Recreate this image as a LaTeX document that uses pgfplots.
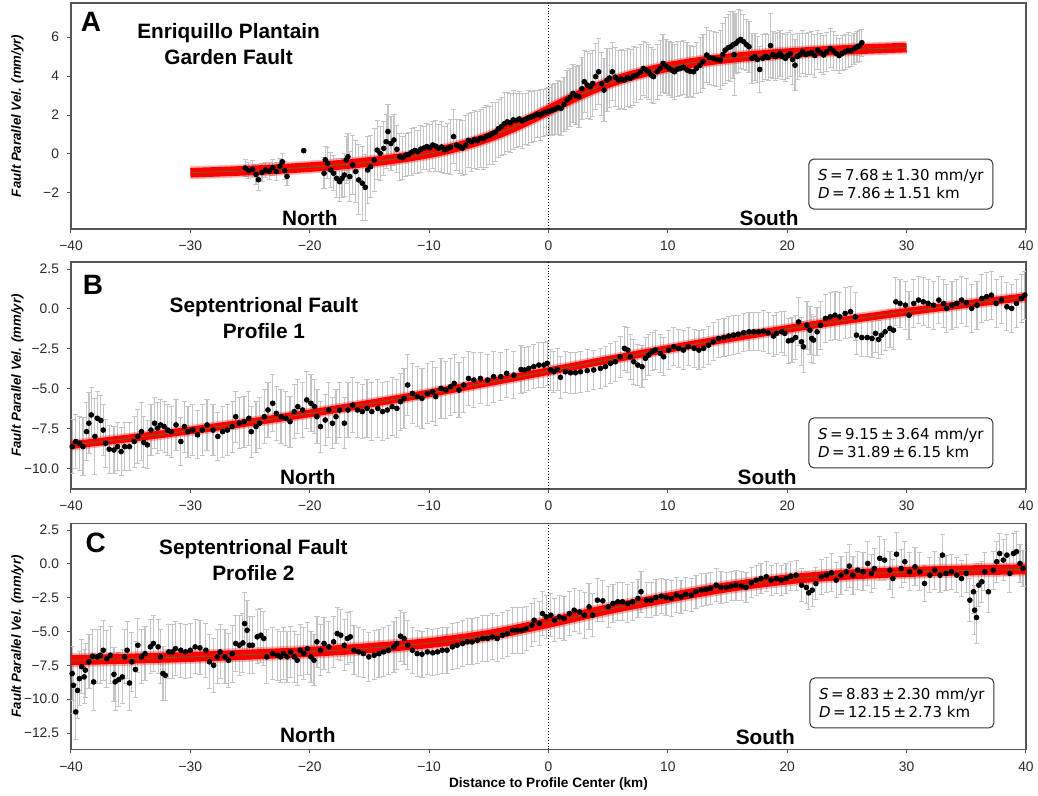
\documentclass[border=0pt]{standalone}
\usepackage{pgfplots}
\pgfplotsset{compat=1.18}
\usepackage{pgfplotstable}
\usepackage{fontspec}
\setmainfont{Liberation Sans}
\newfontfamily\dejavu{DejaVu Sans}

\definecolor{errgray}{RGB}{196,196,196}
\definecolor{framegray}{RGB}{85,85,85}
\definecolor{ticktext}{RGB}{40,40,40}
\definecolor{modelred}{RGB}{255,0,0}
\definecolor{modelmid}{RGB}{85,110,40}

% ---------- Panel A: Enriquillo Plantain Garden Fault ----------
\pgfplotstableread{
x y e
-25.4 -0.72 0.45
-25.1 -0.85 0.40
-24.8 -0.78 0.45
-24.5 -1.05 0.50
-24.3 -1.32 0.55
-24.0 -0.95 0.45
-23.7 -0.82 0.40
-23.4 -0.88 0.45
-23.1 -0.70 0.40
-22.8 -0.90 0.45
-22.5 -0.62 0.40
-22.3 -0.40 0.45
-22.1 -0.85 0.45
-21.9 -1.15 0.45
-20.5 0.17 0.10
-18.8 -0.99 0.80
-18.7 -0.30 0.70
-18.5 -0.47 0.80
-18.25 -0.82 0.90
-18.0 -0.99 0.90
-17.75 -1.25 1.00
-17.5 -1.42 1.00
-17.3 -1.25 1.00
-17.1 -1.08 1.10
-16.95 -0.31 1.20
-16.8 -0.14 1.20
-16.65 -1.16 1.30
-16.4 -0.56 1.50
-16.15 -0.90 1.60
-15.9 -1.33 1.80
-15.6 -1.50 1.90
-15.35 -1.71 1.70
-15.15 -0.82 1.70
-14.9 -0.65 1.60
-14.6 -0.31 1.60
-14.35 0.20 1.50
-14.1 0.03 1.40
-13.8 0.29 1.40
-13.6 0.63 1.40
-13.45 1.15 1.40
-13.2 0.54 1.40
-12.95 0.72 1.30
-12.7 0.24 1.20
-12.45 -0.14 1.20
-12.2 -0.20 1.10
-11.95 -0.05 1.10
-11.7 -0.02 1.10
-11.45 0.10 1.20
-11.2 0.18 1.20
-10.95 0.12 1.10
-10.7 0.25 1.20
-10.45 0.30 1.10
-10.2 0.38 1.20
-9.95 0.32 1.20
-9.7 0.46 1.20
-9.45 0.40 1.30
-9.2 0.30 1.20
-8.95 0.36 1.30
-8.7 0.22 1.20
-8.45 0.28 1.30
-8.2 0.35 1.40
-7.95 0.89 1.40
-7.7 0.46 1.30
-7.45 0.38 1.40
-7.2 0.30 1.40
-6.95 0.45 1.50
-6.7 0.70 1.40
-6.45 0.62 1.50
-6.2 0.75 1.50
-5.95 0.68 1.50
-5.7 0.80 1.50
-5.45 0.78 1.60
-5.2 0.90 1.60
-4.95 0.95 1.50
-4.7 1.05 1.60
-4.45 1.12 1.50
-4.2 1.30 1.50
-3.95 1.40 1.50
-3.7 1.55 1.60
-3.45 1.65 1.50
-3.2 1.60 1.50
-2.95 1.75 1.50
-2.7 1.72 1.40
-2.45 1.80 1.40
-2.2 1.70 1.40
-1.95 1.78 1.30
-1.7 1.85 1.40
-1.45 1.90 1.30
-1.2 1.95 1.30
-0.95 2.05 1.20
-0.7 2.00 1.30
-0.45 2.10 1.20
-0.2 2.15 1.20
0.05 2.20 1.20
0.3 2.25 1.30
0.55 2.30 1.30
0.8 2.38 1.40
1.05 2.34 1.40
1.3 2.55 1.40
1.55 2.77 1.50
1.8 2.90 1.50
2.05 3.11 1.50
2.3 3.00 1.50
2.55 2.94 1.60
2.8 3.35 1.60
3.0 3.71 1.60
3.25 3.54 1.70
3.5 3.45 1.70
3.7 3.62 1.70
3.95 3.97 1.70
4.2 4.22 1.70
4.45 3.60 1.60
4.65 3.28 1.60
4.9 3.79 1.60
5.1 3.90 1.50
5.35 4.22 1.50
5.6 3.95 1.50
5.85 3.79 1.50
6.1 3.85 1.50
6.35 3.79 1.50
6.6 3.92 1.50
6.85 3.88 1.50
7.1 4.00 1.50
7.4 4.05 1.40
7.7 4.20 1.40
7.95 4.39 1.40
8.2 4.30 1.40
8.4 4.22 1.40
8.6 4.05 1.40
8.8 3.97 1.40
9.1 4.22 1.40
9.35 4.40 1.40
9.6 4.65 1.50
9.85 4.50 1.40
10.1 4.39 1.40
10.35 4.30 1.40
10.55 4.22 1.40
10.8 4.35 1.40
11.05 4.39 1.40
11.3 4.45 1.40
11.6 4.31 1.40
11.85 4.25 1.30
12.15 4.22 1.30
12.4 4.40 1.30
12.7 4.56 1.40
12.95 4.75 1.40
13.25 5.08 1.40
13.5 4.95 1.40
13.8 4.91 1.40
14.1 4.85 1.40
14.4 4.82 1.50
14.6 5.10 1.60
14.8 5.33 1.70
15.05 5.45 1.70
15.25 5.50 1.80
15.45 5.60 1.70
15.55 5.10 2.10
15.7 5.68 1.55
15.9 5.80 1.60
16.1 5.88 1.50
16.35 5.76 1.40
16.6 5.60 1.30
16.8 5.50 1.30
17.05 4.91 1.30
17.3 4.99 1.20
17.5 4.85 1.20
17.7 4.34 1.20
17.95 4.91 1.20
18.2 5.00 1.20
18.4 4.95 1.20
18.6 5.56 1.65
18.8 5.10 1.20
19.0 4.99 1.20
19.2 5.05 1.20
19.4 5.16 1.20
19.6 5.00 1.20
19.85 4.91 1.20
20.05 5.05 1.20
20.25 5.16 1.20
20.45 4.85 1.30
20.65 4.56 1.30
20.85 5.00 1.20
21.05 5.08 1.10
21.3 5.25 1.10
21.55 5.10 1.10
21.8 5.16 1.10
22.05 5.20 1.10
22.3 5.05 1.10
22.55 5.33 1.00
22.8 5.20 1.00
23.05 5.08 1.00
23.3 5.25 1.00
23.6 5.42 1.00
23.85 5.30 1.00
24.1 5.16 0.90
24.35 5.05 0.90
24.6 5.16 0.90
24.85 5.25 0.90
25.1 5.33 0.90
25.35 5.30 0.80
25.6 5.40 0.80
25.85 5.50 0.80
26.05 5.55 0.80
26.25 5.71 0.70
}\dataA

\pgfplotstableread{
x y
-30 -0.964
-28 -0.920
-26 -0.873
-24 -0.817
-22 -0.751
-20 -0.673
-18 -0.583
-16 -0.473
-14 -0.339
-12 -0.173
-10 0.038
-9 0.165
-8 0.308
-7 0.471
-6 0.656
-5 0.864
-4 1.099
-3 1.359
-2 1.641
-1 1.941
0 2.250
1 2.559
2 2.859
3 3.141
4 3.401
5 3.636
6 3.844
7 4.029
8 4.192
9 4.335
10 4.462
12 4.673
14 4.839
16 4.973
18 5.083
20 5.173
22 5.251
24 5.317
26 5.373
28 5.420
30 5.464
}\modelA

% ---------- Panel B: Septentrional Fault, profile 1 ----------
\pgfplotstableread{
x y e
-39.9 -8.64 1.7
-39.6 -8.32 1.7
-39.3 -8.43 1.7
-39.0 -8.64 1.8
-38.7 -7.70 1.8
-38.5 -7.17 1.9
-38.3 -6.65 1.7
-38.0 -8.00 2.4
-37.8 -6.86 1.7
-37.5 -7.00 1.6
-37.3 -7.60 1.6
-37.1 -8.43 1.5
-36.8 -8.80 1.5
-36.4 -8.85 1.5
-36.1 -8.64 1.5
-35.8 -8.95 1.5
-35.5 -8.64 1.5
-35.1 -8.64 1.5
-34.7 -8.32 1.6
-34.4 -8.00 1.7
-34.1 -7.70 1.8
-33.9 -8.38 1.6
-33.6 -8.53 1.5
-33.3 -7.60 1.6
-33.0 -7.17 1.6
-32.75 -7.48 1.6
-32.5 -7.28 1.6
-32.2 -7.38 1.6
-31.9 -7.60 1.6
-31.6 -7.70 1.6
-31.2 -7.28 1.6
-30.8 -8.32 1.5
-30.5 -7.38 1.6
-30.2 -7.70 1.6
-29.8 -7.60 1.6
-29.4 -7.90 1.5
-29.0 -7.60 1.6
-28.6 -7.28 1.6
-28.1 -7.60 1.6
-27.7 -8.00 1.5
-27.3 -7.70 1.6
-26.9 -7.60 1.6
-26.5 -7.38 1.6
-26.2 -6.76 1.6
-25.9 -7.17 1.6
-25.5 -7.07 1.6
-25.1 -6.86 1.7
-24.9 -7.70 1.6
-24.5 -7.38 1.6
-24.2 -7.17 1.6
-23.8 -6.76 1.7
-23.5 -6.34 1.7
-23.1 -5.92 1.8
-22.8 -6.55 1.7
-22.4 -6.76 1.7
-22.0 -6.86 1.7
-21.65 -7.07 1.6
-21.3 -6.44 1.7
-21.0 -6.13 1.7
-20.6 -6.34 1.7
-20.25 -5.71 1.8
-19.9 -5.92 1.8
-19.6 -6.13 1.7
-19.4 -6.76 1.7
-19.1 -7.38 1.6
-18.7 -6.97 1.6
-18.4 -6.34 1.7
-18.1 -7.17 1.6
-17.8 -6.76 1.7
-17.5 -6.34 1.7
-17.1 -7.17 1.6
-16.8 -6.34 1.7
-16.4 -6.03 1.7
-16.0 -6.34 1.7
-15.6 -6.44 1.7
-15.2 -6.24 1.8
-14.8 -6.44 1.8
-14.3 -6.24 1.8
-13.9 -6.44 1.8
-13.5 -6.34 1.8
-13.1 -6.13 1.8
-12.7 -6.24 1.8
-12.4 -5.82 1.8
-12.1 -5.61 1.9
-11.8 -4.77 1.9
-11.4 -5.30 1.9
-11.0 -5.50 1.9
-10.6 -5.61 1.9
-10.15 -5.30 1.9
-9.7 -5.19 1.9
-9.45 -5.50 1.8
-9.0 -4.98 1.9
-8.6 -5.09 1.8
-8.2 -4.88 1.8
-7.9 -4.67 1.8
-7.5 -5.09 1.7
-7.1 -4.77 1.7
-6.7 -4.36 1.7
-6.25 -4.46 1.7
-5.7 -4.36 1.6
-5.1 -4.46 1.6
-4.6 -4.25 1.6
-4.0 -4.25 1.5
-3.5 -4.04 1.5
-2.9 -4.15 1.5
-2.3 -3.80 1.5
-2.0 -3.83 1.4
-1.65 -3.73 1.4
-1.23 -3.62 1.4
-0.81 -3.52 1.4
-0.39 -3.52 1.4
-0.11 -3.41 1.4
0.17 -3.83 1.3
0.45 -3.94 1.3
0.73 -3.79 1.3
1.0 -4.29 1.3
1.42 -3.94 1.3
1.84 -4.00 1.3
2.26 -4.00 1.3
2.68 -3.94 1.3
3.24 -3.87 1.3
3.79 -3.83 1.25
4.35 -3.73 1.25
4.77 -3.62 1.25
5.19 -3.41 1.25
5.6 -3.31 1.25
6.0 -3.00 1.3
6.36 -2.47 1.4
6.64 -2.58 1.4
6.86 -3.00 1.4
7.14 -3.31 1.4
7.48 -3.52 1.3
7.84 -3.62 1.3
8.12 -3.10 1.3
8.4 -2.89 1.3
8.68 -2.68 1.2
8.95 -2.58 1.2
9.37 -2.79 1.2
9.65 -3.00 1.2
10.07 -2.58 1.2
10.49 -2.37 1.2
10.9 -2.47 1.2
11.3 -2.58 1.2
11.7 -2.37 1.2
12.2 -2.47 1.2
12.6 -2.58 1.2
13.0 -2.47 1.2
13.4 -2.27 1.2
13.8 -2.06 1.2
14.25 -1.85 1.2
14.7 -1.79 1.2
15.1 -1.70 1.2
15.5 -1.64 1.2
15.9 -1.58 1.2
16.35 -1.49 1.2
16.8 -1.43 1.2
17.2 -1.43 1.2
17.6 -1.43 1.2
18.0 -1.39 1.3
18.4 -1.49 1.3
18.85 -1.70 1.3
19.1 -1.53 1.3
19.55 -1.43 1.3
19.8 -1.53 1.4
20.1 -2.00 1.4
20.4 -1.95 1.4
20.7 -1.79 1.4
20.95 -0.81 1.5
21.2 -2.06 1.5
21.35 -2.37 1.6
21.65 -1.02 1.5
21.9 -1.33 1.5
22.05 -1.85 1.5
22.2 -1.95 1.5
22.5 -1.43 1.5
22.8 -1.02 1.5
23.2 -0.59 1.5
23.6 -0.49 1.5
24.0 -0.39 1.5
24.4 -0.49 1.5
24.85 -0.28 1.6
25.3 -0.17 1.6
25.7 -0.49 1.5
25.8 -1.64 1.2
26.25 -1.79 1.2
26.7 -1.79 1.2
27.1 -1.85 1.2
27.4 -1.53 1.2
27.65 -1.91 1.2
27.9 -1.64 1.2
28.2 -1.43 1.2
28.6 -1.22 1.2
28.9 -1.33 1.2
29.1 0.45 1.5
29.45 0.35 1.5
29.9 0.24 1.5
30.2 -0.39 1.5
30.6 0.35 1.5
31.0 0.56 1.5
31.4 0.45 1.5
31.8 0.35 1.5
32.25 0.24 1.5
32.7 0.56 1.5
33.1 0.35 1.5
33.35 0.04 1.5
33.8 0.24 1.5
34.2 0.35 1.5
34.6 0.56 1.5
35.0 0.39 1.5
35.45 0.04 1.5
35.9 0.24 1.5
36.3 0.66 1.5
36.7 0.77 1.5
37.1 0.87 1.5
37.5 0.35 1.5
37.95 0.56 1.5
38.4 0.14 1.5
38.8 0.04 1.5
39.2 0.35 1.5
39.6 0.66 1.5
39.9 0.87 1.5
}\dataB

\pgfplotstableread{
x y
-40 -8.550
-36 -8.196
-32 -7.821
-28 -7.423
-24 -7.002
-20 -6.550
-16 -6.069
-12 -5.559
-8 -5.023
-4 -4.467
0 -3.900
4 -3.333
8 -2.777
12 -2.241
16 -1.731
20 -1.250
24 -0.798
28 -0.377
32 0.021
36 0.396
40 0.750
}\modelB

% ---------- Panel C: Septentrional Fault, profile 2 ----------
\pgfplotstableread{
x y e
-39.9 -8.10 2.0
-39.8 -8.97 2.1
-39.6 -10.94 2.0
-39.45 -9.35 2.1
-39.3 -8.48 2.0
-39.1 -7.60 2.0
-38.9 -8.35 2.0
-38.8 -7.85 2.0
-38.5 -7.24 2.0
-38.2 -6.82 2.0
-38.1 -8.72 2.1
-37.8 -6.87 2.0
-37.55 -6.75 2.1
-37.3 -6.38 2.2
-37.0 -7.00 2.1
-36.7 -6.75 2.1
-36.4 -8.16 2.0
-36.3 -8.72 2.1
-36.0 -8.55 2.0
-35.7 -8.35 2.0
-35.5 -6.87 2.0
-35.3 -6.38 2.1
-35.1 -8.80 2.0
-34.9 -7.24 2.2
-34.6 -7.80 2.1
-34.4 -6.01 2.0
-34.1 -6.87 2.0
-33.8 -6.63 2.0
-33.35 -6.13 2.0
-33.1 -5.88 2.1
-32.7 -6.13 2.0
-32.5 -6.87 2.0
-32.3 -8.10 2.0
-32.1 -8.23 1.9
-31.8 -6.50 2.0
-31.5 -6.50 2.0
-31.25 -6.26 2.0
-30.8 -6.38 2.0
-30.4 -6.50 2.0
-30.0 -6.38 2.0
-29.6 -6.13 2.0
-29.2 -6.20 2.0
-28.7 -6.38 2.0
-28.4 -7.24 2.0
-28.05 -7.49 2.0
-27.75 -6.87 2.0
-27.5 -6.50 2.0
-27.1 -6.87 2.0
-26.8 -7.12 2.0
-26.5 -6.63 2.1
-26.2 -5.88 2.1
-25.9 -6.01 2.2
-25.6 -5.84 2.2
-25.45 -4.41 2.3
-25.25 -4.90 2.2
-25.05 -6.01 2.1
-24.8 -6.01 2.1
-24.4 -5.39 2.0
-24.1 -5.27 2.0
-23.85 -5.51 2.0
-23.6 -6.87 2.0
-23.1 -6.63 1.9
-22.7 -6.75 1.9
-22.45 -6.87 1.9
-22.2 -6.63 1.9
-21.9 -6.87 1.9
-21.6 -6.50 1.9
-21.3 -6.87 1.9
-21.05 -7.12 1.9
-20.8 -6.38 1.9
-20.5 -6.63 1.9
-20.2 -6.26 1.9
-19.9 -6.87 1.9
-19.65 -7.12 1.9
-19.4 -5.76 1.9
-19.1 -6.38 1.9
-18.8 -5.88 1.9
-18.4 -6.13 1.9
-18.0 -5.76 1.9
-17.7 -5.15 1.9
-17.4 -5.27 1.9
-17.1 -6.01 1.9
-16.85 -5.51 1.9
-16.6 -5.39 1.9
-16.3 -6.38 1.8
-15.9 -6.50 1.8
-15.5 -6.63 1.8
-15.05 -6.87 1.8
-14.6 -6.75 1.8
-14.2 -6.63 1.8
-13.8 -6.50 1.8
-13.4 -6.38 1.8
-12.95 -6.13 1.9
-12.7 -5.88 1.9
-12.4 -5.34 1.9
-12.1 -5.51 1.9
-11.8 -6.01 1.8
-11.4 -6.38 1.7
-11.0 -6.63 1.7
-10.6 -6.67 1.7
-10.15 -6.50 1.7
-9.7 -6.57 1.7
-9.3 -6.50 1.7
-8.9 -6.38 1.7
-8.5 -6.38 1.7
-8.05 -6.13 1.7
-7.65 -6.01 1.7
-7.2 -5.88 1.7
-6.8 -5.76 1.7
-6.4 -5.76 1.7
-5.95 -5.64 1.7
-5.5 -5.51 1.7
-5.1 -5.51 1.7
-4.7 -5.39 1.7
-4.3 -5.51 1.7
-3.85 -5.27 1.7
-3.45 -5.15 1.7
-3.0 -4.90 1.7
-2.6 -4.90 1.7
-2.2 -4.90 1.7
-1.85 -4.78 1.6
-1.4 -4.53 1.6
-1.2 -4.16 1.6
-0.77 -4.40 1.6
-0.5 -3.67 1.6
-0.2 -3.91 1.6
0.2 -3.79 1.6
0.5 -4.16 1.6
0.9 -3.91 1.6
1.3 -4.03 1.6
1.75 -3.67 1.6
2.15 -3.42 1.6
2.6 -3.55 1.6
3.0 -3.79 1.7
3.4 -3.17 1.7
3.7 -3.79 1.6
4.1 -2.68 1.6
4.55 -2.73 1.5
5.0 -3.17 1.5
5.4 -2.93 1.4
5.8 -2.80 1.4
6.2 -2.80 1.4
6.65 -2.93 1.4
7.05 -2.80 1.4
7.5 -2.55 1.4
7.75 -2.06 1.5
8.2 -2.68 1.3
8.6 -2.68 1.3
9.0 -2.48 1.3
9.45 -2.38 1.3
9.85 -2.48 1.3
10.3 -2.55 1.3
10.7 -2.31 1.3
11.1 -2.43 1.2
11.5 -2.24 1.2
11.95 -2.31 1.2
12.35 -2.06 1.2
12.8 -1.94 1.2
13.2 -1.89 1.2
13.6 -1.82 1.2
14.05 -1.57 1.2
14.45 -1.74 1.2
14.9 -1.74 1.1
15.3 -1.64 1.1
15.7 -1.57 1.1
16.15 -1.64 1.1
16.55 -1.74 1.1
17.0 -1.40 1.1
17.4 -1.20 1.1
17.8 -1.08 1.1
18.25 -0.95 1.1
18.65 -1.20 1.1
19.1 -1.08 1.1
19.5 -1.20 1.1
19.9 -1.08 1.1
20.3 -0.90 1.1
20.75 -0.83 1.1
21.2 -1.57 1.2
21.6 -1.74 1.2
21.8 -2.14 1.2
22.1 -1.94 1.2
22.4 -1.45 1.2
22.85 -0.95 1.3
23.3 -0.83 1.3
23.7 -0.66 1.4
24.1 -1.20 1.3
24.5 -0.83 1.4
24.95 -0.58 1.4
25.2 -0.16 1.6
25.5 -0.83 1.4
25.9 -0.46 1.4
26.35 -0.58 1.4
26.75 0.03 1.6
27.05 -0.70 1.4
27.3 -0.34 1.5
27.75 0.41 1.6
28.15 0.28 1.5
28.6 -0.46 1.4
28.85 -1.08 1.4
29.15 0.72 1.6
29.55 -0.34 1.4
29.85 0.16 1.5
30.25 -0.58 1.4
30.7 -0.21 1.4
31.1 -0.58 1.4
31.5 -1.45 1.3
31.95 -0.83 1.3
32.35 -0.46 1.4
32.8 -0.83 1.3
33.0 0.65 1.5
33.3 -0.70 1.3
33.75 -0.58 1.3
34.2 -0.83 1.3
34.6 -1.08 1.3
35.0 -0.70 1.4
35.3 -2.68 1.6
35.6 -2.06 1.6
35.7 -3.42 1.8
35.85 -3.96 1.9
36.05 -1.57 1.6
36.3 -1.32 1.5
36.55 -0.58 1.4
36.85 -2.06 1.5
37.25 -0.46 1.4
37.55 0.16 1.5
37.8 0.77 1.5
38.1 0.28 1.5
38.4 0.65 1.5
38.65 -0.70 1.4
38.95 0.77 1.5
39.2 0.90 1.5
39.5 0.03 1.4
39.75 -0.34 1.3
}\dataC

\pgfplotstableread{
x y
-40 -7.12
-35 -7.00
-30 -6.87
-25 -6.70
-20 -6.50
-15 -6.22
-10 -5.85
-5 -5.25
0 -4.35
5 -3.35
10 -2.50
15 -1.72
20 -1.15
25 -0.80
30 -0.60
35 -0.48
40 -0.40
}\modelC

% text styles for the annotations inside the panels
\tikzset{
  panelletter/.style={font=\fontsize{14}{16}\selectfont\bfseries},
  paneltitle/.style={align=center, font=\fontsize{10.4}{13}\selectfont\bfseries},
  sidelabel/.style={font=\fontsize{10.4}{12}\selectfont\bfseries},
  statbox/.style={draw=black!80, line width=0.5pt, rounded corners=2.5pt, fill=white,
    align=left, minimum width=92pt, minimum height=25pt,
    font=\dejavu\fontsize{7.5}{9}\selectfont},
}

\pgfplotsset{
  panel/.style={
    scale only axis, width=477.5pt,
    xmin=-40, xmax=40,
    xtick={-40,-30,-20,-10,0,10,20,30,40},
    xticklabels={−40,−30,−20,−10,0,10,20,30,40},
    axis line style={draw=framegray, line width=0.55pt},
    tick align=outside, tick pos=left,
    major tick length=2pt,
    every tick/.style={draw=framegray, line width=0.5pt},
    ticklabel style={font=\fontsize{6.9}{8}\selectfont, text=ticktext},
    xticklabel style={yshift=-0.6pt},
    yticklabel style={xshift=-0.5pt},
    ylabel={\bfseries\itshape Fault Parallel Vel. (mm/yr)},
    ylabel style={at={([xshift=-26.75pt]rel axis cs:0,0.5)}, anchor=center,
      font=\fontsize{6.6}{8}\selectfont},
  },
  errs/.style={draw=none, mark=none,
    /pgfplots/error bars/y dir=both,
    /pgfplots/error bars/y explicit,
    /pgfplots/error bars/error bar style={draw=errgray, line width=0.6pt},
    /pgfplots/error bars/error mark options={draw=errgray, rotate=90, mark size=1.3pt, line width=0.5pt}},
  dots/.style={only marks, mark=*, mark size=1.2pt, mark options={draw=black, fill=black}},
  halo/.style={draw=modelred, opacity=0.3, line width=#1, smooth},
  band/.style={draw=modelred, line width=#1, smooth},
  mid/.style={draw=modelmid, line width=0.4pt, smooth},
  zero/.style={draw=black, densely dotted, line width=0.45pt},
}

\begin{document}
\begin{tikzpicture}

% Panel A
\begin{axis}[panel, at={(35.5pt,-114.5pt)}, anchor=south west, height=113pt,
  ymin=-3.85, ymax=7.75,
  ytick={-2,0,2,4,6}, yticklabels={−2,0,2,4,6}]
  \addplot[errs] table[x=x, y=y, y error=e] {\dataA};
  \addplot[zero] coordinates {(0,-3.85) (0,7.75)};
  \addplot[halo=6.5pt] table[x=x, y=y] {\modelA};
  \addplot[band=4.8pt] table[x=x, y=y] {\modelA};
  \addplot[mid] table[x=x, y=y] {\modelA};
  \addplot[dots] table[x=x, y=y] {\dataA};
  \node[panelletter] at (rel axis cs:0.021,0.916) {A};
  \node[paneltitle] at (rel axis cs:0.165,0.819) {Enriquillo Plantain\\Garden Fault};
  \node[sidelabel] at (rel axis cs:0.25,0.049) {North};
  \node[sidelabel] at (rel axis cs:0.731,0.049) {South};
  \node[statbox] at (rel axis cs:0.869,0.199)
    {\textit{S}\,=\,7.68\,±\,1.30 mm/yr\\\textit{D}\,=\,7.86\,±\,1.51 km};
\end{axis}

% Panel B
\begin{axis}[panel, at={(35.5pt,-244.5pt)}, anchor=south west, height=113.5pt,
  ymin=-11.3, ymax=2.95,
  ytick={-10,-7.5,-5,-2.5,0,2.5}, yticklabels={−10.0,−7.5,−5.0,−2.5,0.0,2.5}]
  \addplot[errs] table[x=x, y=y, y error=e] {\dataB};
  \addplot[zero] coordinates {(0,-11.3) (0,2.95)};
  \addplot[halo=5.5pt] table[x=x, y=y] {\modelB};
  \addplot[band=3.8pt] table[x=x, y=y] {\modelB};
  \addplot[mid] table[x=x, y=y] {\modelB};
  \addplot[dots] table[x=x, y=y] {\dataB};
  \node[panelletter] at (rel axis cs:0.023,0.899) {B};
  \node[paneltitle] at (rel axis cs:0.202,0.755) {Septentrional Fault\\Profile 1};
  \node[sidelabel] at (rel axis cs:0.248,0.053) {North};
  \node[sidelabel] at (rel axis cs:0.729,0.053) {South};
  \node[statbox] at (rel axis cs:0.869,0.203)
    {\textit{S}\,=\,9.15\,±\,3.64 mm/yr\\\textit{D}\,=\,31.89\,±\,6.15 km};
\end{axis}

% Panel C
\begin{axis}[panel, at={(35.5pt,-374.65pt)}, anchor=south west, height=113pt,
  ymin=-13.7, ymax=3.0,
  ytick={-12.5,-10,-7.5,-5,-2.5,0,2.5},
  yticklabels={−12.5,−10.0,−7.5,−5.0,−2.5,0.0,2.5},
  xlabel={\bfseries Distance to Profile Center (km)},
  xlabel style={at={([yshift=-17.2pt]rel axis cs:0.5,0)}, anchor=center,
    font=\fontsize{6.8}{8}\selectfont}]
  \addplot[errs] table[x=x, y=y, y error=e] {\dataC};
  \addplot[zero] coordinates {(0,-13.7) (0,3.0)};
  \addplot[halo=7pt] table[x=x, y=y] {\modelC};
  \addplot[band=5pt] table[x=x, y=y] {\modelC};
  \addplot[mid] table[x=x, y=y] {\modelC};
  \addplot[dots] table[x=x, y=y] {\dataC};
  \node[panelletter] at (rel axis cs:0.026,0.912) {C};
  \node[paneltitle] at (rel axis cs:0.191,0.838) {Septentrional Fault\\Profile 2};
  \node[sidelabel] at (rel axis cs:0.248,0.064) {North};
  \node[sidelabel] at (rel axis cs:0.727,0.055) {South};
  \node[statbox] at (rel axis cs:0.870,0.205)
    {\textit{S}\,=\,8.83\,±\,2.30 mm/yr\\\textit{D}\,=\,12.15\,±\,2.73 km};
\end{axis}

\pgfresetboundingbox
\useasboundingbox (0,0) rectangle (519pt,-398pt);
\end{tikzpicture}
\end{document}
